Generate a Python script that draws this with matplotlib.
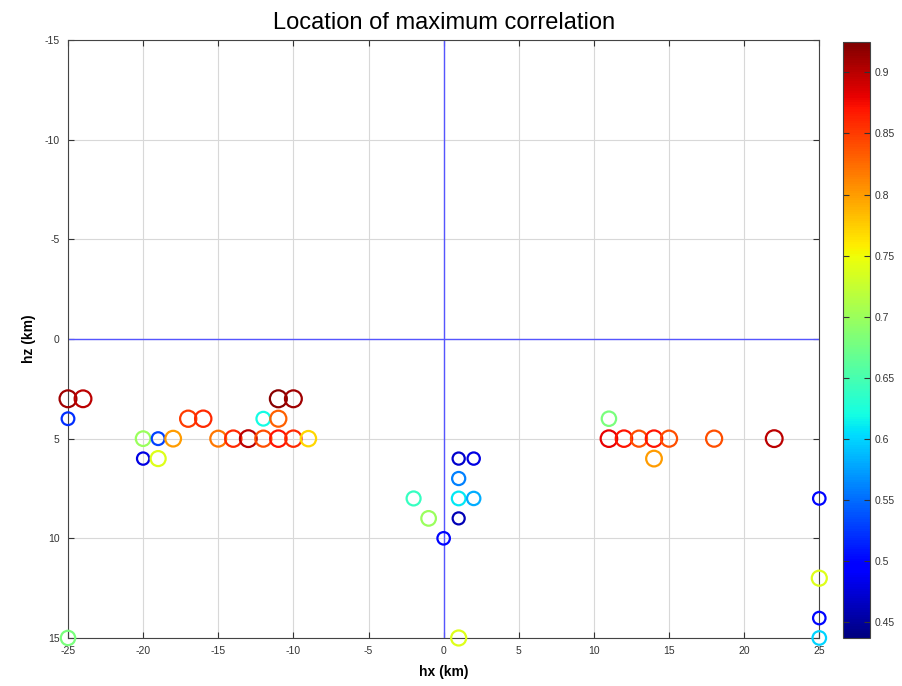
import matplotlib
matplotlib.use("Agg")
import matplotlib.pyplot as plt
import matplotlib.cm as cm
import matplotlib.colors as mcolors
import numpy as np

hx = [-25, -24, -11, -10,
      -25, -17, -16, -12, -11,
      -20, -19, -18, -15, -14, -13, -12, -11, -10, -9,
      -20, -19,
      1, 2, 1, -2, 1, 2, -1, 1, 0, 1, -25,
      11, 11, 12, 13, 14, 15, 18, 22, 14,
      25, 25, 25, 25]
hz = [3, 3, 3, 3,
      4, 4, 4, 4, 4,
      5, 5, 5, 5, 5, 5, 5, 5, 5, 5,
      6, 6,
      6, 6, 7, 8, 8, 8, 9, 9, 10, 15, 15,
      4, 5, 5, 5, 5, 5, 5, 5, 6,
      8, 12, 14, 15]
corr = [0.91, 0.90, 0.92, 0.91,
        0.52, 0.85, 0.86, 0.62, 0.83,
        0.70, 0.53, 0.80, 0.82, 0.86, 0.90, 0.84, 0.87, 0.86, 0.77,
        0.48, 0.74,
        0.47, 0.48, 0.56, 0.64, 0.61, 0.58, 0.70, 0.46, 0.50, 0.74, 0.68,
        0.68, 0.88, 0.87, 0.84, 0.87, 0.84, 0.84, 0.90, 0.80,
        0.50, 0.74, 0.50, 0.60]
cmin, cmax = 0.437, 0.925
xticks = [-25, -20, -15, -10, -5, 0, 5, 10, 15, 20, 25]
yticks = [-15, -10, -5, 0, 5, 10, 15]
cticks = [0.45, 0.5, 0.55, 0.6, 0.65, 0.7, 0.75, 0.8, 0.85, 0.9]

plt.rcParams['font.family'] = ['Liberation Sans', 'DejaVu Sans']
plt.rcParams['axes.unicode_minus'] = False

fig = plt.figure(figsize=(9.03, 6.86), dpi=100)
ax = fig.add_axes([0.0753, 0.070, 0.832, 0.8717])
cax = fig.add_axes([0.9336, 0.070, 0.030, 0.869])

cmap = plt.get_cmap('jet')
norm = mcolors.Normalize(vmin=cmin, vmax=cmax)
c = np.array(corr)
edge = cmap(norm(c))
diam = 8.6 + (c - 0.45) / 0.47 * 3.6
sizes = diam ** 2

ax.axvline(0, color='#5555ff', lw=1, zorder=1)
ax.axhline(0, color='#5555ff', lw=1, zorder=1)
ax.scatter(hx, hz, s=sizes, facecolors='none', edgecolors=edge,
           linewidths=1.6, zorder=3, clip_on=False)

ax.set_xlim(-25, 25)
ax.set_ylim(15, -15)
ax.set_xticks(xticks)
ax.set_yticks(yticks)
ax.grid(True, color='#d8d8d8', lw=0.8, linestyle='-')
ax.set_axisbelow(True)
ax.tick_params(direction='in', labelsize=7.5, colors='#333333', length=4,
               top=True, right=True, pad=6)
for s in ax.spines.values():
    s.set_color('#444444')
ax.set_xlabel('hx (km)', fontsize=10, fontweight='bold', labelpad=6)
ax.set_ylabel('hz (km)', fontsize=10, fontweight='bold', labelpad=6)
ax.set_title('Location of maximum correlation', fontsize=17, pad=8)

sm = cm.ScalarMappable(norm=norm, cmap=cmap)
cb = fig.colorbar(sm, cax=cax, ticks=cticks)
cb.ax.tick_params(direction='in', labelsize=7.5, colors='#333333', length=4,
                  left=True, right=True)
cb.set_ticklabels([f'{t:g}' for t in cticks])
cb.outline.set_edgecolor('#444444')

fig.savefig('out.png', dpi=100)
